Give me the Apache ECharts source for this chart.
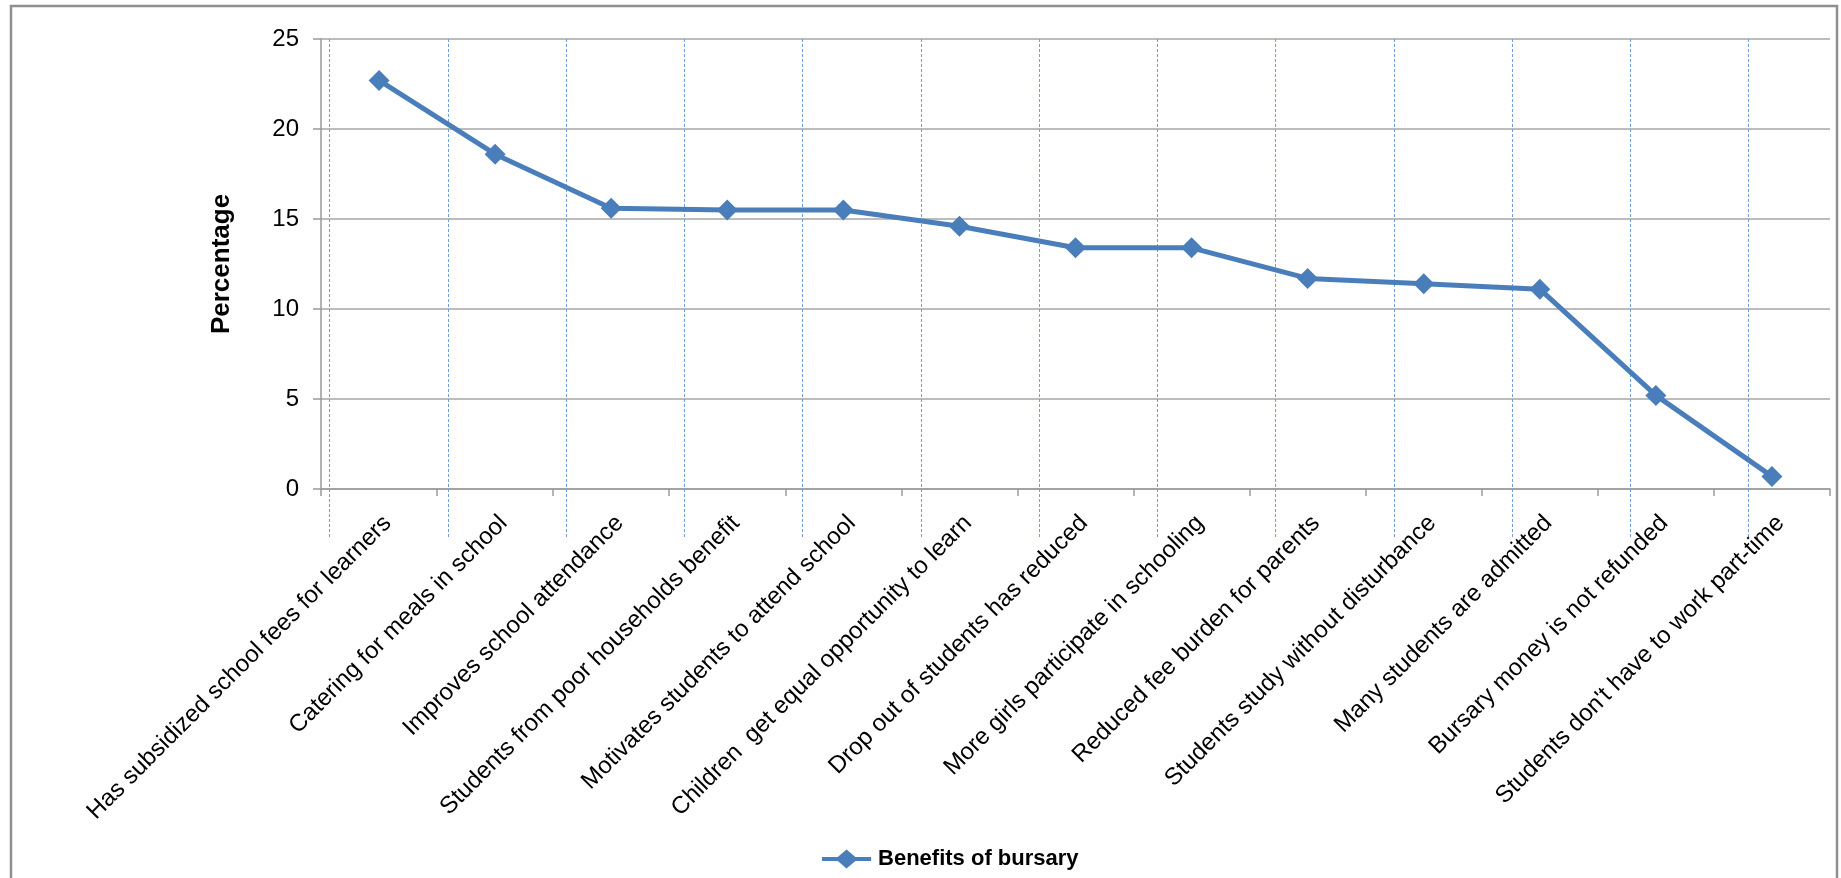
<!DOCTYPE html>
<html>
<head>
<meta charset="utf-8">
<script src="https://cdn.jsdelivr.net/npm/echarts@6/dist/echarts.min.js"></script>
<style>
html,body{margin:0;padding:0;background:#fff;}
#chart{width:1841px;height:878px;}
</style>
</head>
<body>
<div id="chart"></div>
<script>
const categories = [
  "Has subsidized school fees for learners",
  "Catering for meals in school",
  "Improves school attendance",
  "Students from poor households benefit",
  "Motivates students to attend school",
  "Children  get equal opportunity to learn",
  "Drop out of students has reduced",
  "More girls participate in schooling",
  "Reduced fee burden for parents",
  "Students study without disturbance",
  "Many students are admitted",
  "Bursary money is not refunded",
  "Students don't have to work part-time"
];
const benefits = [22.7, 18.6, 15.6, 15.5, 15.5, 14.6, 13.4, 13.4, 11.7, 11.4, 11.1, 5.2, 0.7];
const seriesName = "Benefits of bursary";
const yTicks = { min: 0, max: 25, interval: 5 };
const dashedLineCount = 12; // background dashed guides (0..12)

const chart = echarts.init(document.getElementById('chart'));
const FONT = 'Liberation Sans, Arial, sans-serif';
const BLUE = '#4a7ebb';
chart.setOption({
  animation: false,
  backgroundColor: '#fff',
  graphic: [{
    type: 'rect', silent: true, z: 0,
    shape: { x: 11, y: 6, width: 1826, height: 890 },
    style: { fill: 'none', stroke: '#8f8f8f', lineWidth: 2.5 }
  }],
  grid: [
    { left: 321, top: 39, right: 11, bottom: 389, containLabel: false },
    { left: 329.6, top: 39, width: 1419, height: 498, containLabel: false }
  ],
  legend: {
    data: [{
      name: seriesName,
      icon: 'path://M0,7H17L26.5,-1L36,7H53V11.5H36L26.5,19.5L17,11.5H0Z'
    }],
    left: 817, top: 843,
    itemWidth: 53, itemHeight: 19, itemGap: 10,
    itemStyle: { color: BLUE },
    textStyle: { fontFamily: FONT, fontSize: 22, fontWeight: 'bold', color: '#000' }
  },
  xAxis: [{
    type: 'category', gridIndex: 0, data: categories,
    boundaryGap: true,
    axisLine: { lineStyle: { color: '#9a9a9a', width: 1.5 } },
    axisTick: { show: true, length: 7, alignWithLabel: false, lineStyle: { color: '#9a9a9a', width: 1.5 } },
    axisLabel: { interval: 0, rotate: 45, margin: 22, verticalAlign: 'top', color: '#000', fontFamily: FONT, fontSize: 24 },
    splitLine: { show: false }
  }, {
    type: 'value', gridIndex: 1, min: 0, max: dashedLineCount, interval: 1,
    axisLine: { show: false }, axisTick: { show: false }, axisLabel: { show: false },
    splitLine: { show: true, lineStyle: { color: '#6f9fe0', width: 1, type: [3, 2] } }
  }],
  yAxis: [{
    type: 'value', gridIndex: 0,
    min: yTicks.min, max: yTicks.max, interval: yTicks.interval,
    name: 'Percentage', nameLocation: 'middle', nameRotate: 90, nameGap: 86,
    nameTextStyle: { fontFamily: FONT, fontSize: 26, fontWeight: 'bold', color: '#000' },
    axisLine: { show: true, lineStyle: { color: '#9a9a9a', width: 1.5 } },
    axisTick: { show: true, length: 8, lineStyle: { color: '#9a9a9a', width: 1.5 } },
    axisLabel: { margin: 22, color: '#000', fontFamily: FONT, fontSize: 24 },
    splitLine: { show: true, lineStyle: { color: '#a6a6a6', width: 1.5 } }
  }, {
    type: 'value', gridIndex: 1, min: 0, max: 1,
    axisLine: { show: false }, axisTick: { show: false }, axisLabel: { show: false },
    splitLine: { show: false }
  }],
  series: [{
    name: seriesName,
    type: 'line',
    xAxisIndex: 0, yAxisIndex: 0,
    data: benefits,
    symbol: 'diamond', symbolSize: 21,
    lineStyle: { color: BLUE, width: 5 },
    itemStyle: { color: BLUE },
    z: 5
  }]
});
</script>
</body>
</html>
